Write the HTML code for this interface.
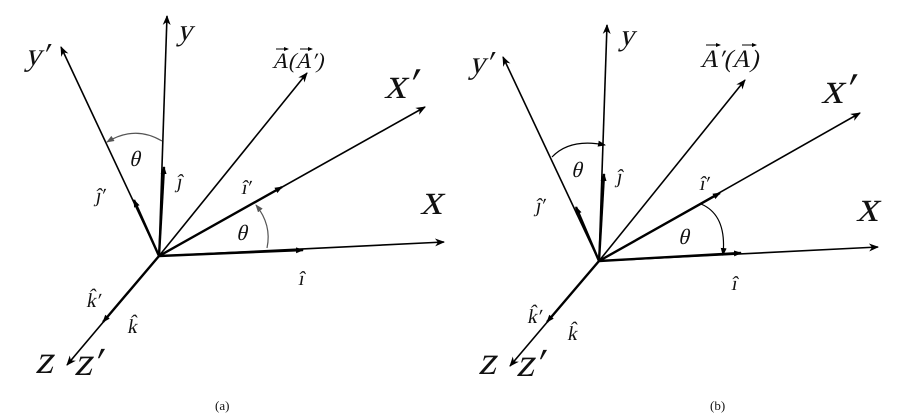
<!DOCTYPE html>
<html><head><meta charset="utf-8"><style>
html,body{margin:0;padding:0;background:#fff}
svg{display:block}
text{font-family:"Liberation Serif","DejaVu Serif",serif;fill:#111}
</style></head><body>
<svg width="903" height="420" viewBox="0 0 903 420" xmlns="http://www.w3.org/2000/svg">
<defs>
<marker id="ah" markerWidth="10" markerHeight="8" refX="9" refY="4" orient="auto" markerUnits="userSpaceOnUse"><path d="M0,0 L10,4 L0,8 L3,4 Z" fill="#000"/></marker>
<marker id="sm" markerWidth="8" markerHeight="6" refX="7" refY="3" orient="auto" markerUnits="userSpaceOnUse"><path d="M0,0 L8,3 L0,6 Z" fill="#000"/></marker>
<marker id="tv" markerWidth="5" markerHeight="4" refX="4" refY="2" orient="auto" markerUnits="userSpaceOnUse"><path d="M0,0 L5,2 L0,4 Z" fill="#000"/></marker>
<marker id="ga" markerWidth="8" markerHeight="6" refX="7" refY="3" orient="auto" markerUnits="userSpaceOnUse"><path d="M0,0 L8,3 L0,6 Z" fill="#555"/></marker>
</defs>
<g stroke="#000" stroke-width="1.6" fill="none">
<line x1="159" y1="256" x2="167" y2="16" marker-end="url(#ah)"/>
<line x1="159" y1="256" x2="61" y2="47" marker-end="url(#ah)"/>
<line x1="159" y1="256" x2="307" y2="73" marker-end="url(#ah)"/>
<line x1="159" y1="256" x2="425" y2="107" marker-end="url(#ah)"/>
<line x1="159" y1="256" x2="444" y2="242" marker-end="url(#ah)"/>
<line x1="159" y1="256" x2="67" y2="365" marker-end="url(#ah)"/>
<line x1="159" y1="256" x2="164" y2="167" stroke-width="2.4" marker-end="url(#sm)"/>
<line x1="159" y1="256" x2="134" y2="200" stroke-width="2.4" marker-end="url(#sm)"/>
<line x1="159" y1="256" x2="282" y2="187" stroke-width="2.4" marker-end="url(#sm)"/>
<line x1="159" y1="256" x2="303" y2="250" stroke-width="2.4" marker-end="url(#sm)"/>
<line x1="159" y1="256" x2="103" y2="322" stroke-width="2.4" marker-end="url(#sm)"/>
<path d="M162,141 Q135,125 107,142" stroke="#555" stroke-width="1.2" marker-end="url(#ga)"/>
<path d="M267,248 Q272,225 256,205" stroke="#555" stroke-width="1.2" marker-end="url(#ga)"/>
<line x1="599" y1="261" x2="607" y2="25" marker-end="url(#ah)"/>
<line x1="599" y1="261" x2="503" y2="57" marker-end="url(#ah)"/>
<line x1="599" y1="261" x2="745" y2="80" marker-end="url(#ah)"/>
<line x1="599" y1="261" x2="860" y2="113" marker-end="url(#ah)"/>
<line x1="599" y1="261" x2="878" y2="247" marker-end="url(#ah)"/>
<line x1="599" y1="261" x2="510" y2="366" marker-end="url(#ah)"/>
<line x1="599" y1="261" x2="604" y2="174" stroke-width="2.4" marker-end="url(#sm)"/>
<line x1="599" y1="261" x2="576" y2="207" stroke-width="2.4" marker-end="url(#sm)"/>
<line x1="599" y1="261" x2="720" y2="193" stroke-width="2.4" marker-end="url(#sm)"/>
<line x1="599" y1="261" x2="741" y2="253" stroke-width="2.4" marker-end="url(#sm)"/>
<line x1="599" y1="261" x2="547" y2="322" stroke-width="2.4" marker-end="url(#sm)"/>
<path d="M552,157 Q570,138 605,145" stroke-width="1.2" marker-end="url(#sm)"/>
<path d="M701,204 Q727,215 723,255" stroke-width="1.2" marker-end="url(#sm)"/>
<g stroke-width="1">
<line x1="276" y1="49" x2="288" y2="49" marker-end="url(#tv)"/>
<line x1="300" y1="49" x2="312" y2="49" marker-end="url(#tv)"/>
<line x1="706" y1="45" x2="720" y2="45" marker-end="url(#tv)"/>
<line x1="742" y1="45" x2="756" y2="45" marker-end="url(#tv)"/>
</g>
</g>
<g>
<text transform="translate(177,40) skewX(-14)" font-size="30">y</text>
<text transform="translate(25,65) skewX(-14)" font-size="32">y′</text>
<text transform="translate(272,68) skewX(-14)" font-size="22">A(A′)</text>
<text transform="translate(384,98) skewX(-14)" font-size="44">x′</text>
<text transform="translate(420,214) skewX(-14)" font-size="44">x</text>
<text transform="translate(129,166) skewX(-14)" font-size="22">θ</text>
<text transform="translate(236,240) skewX(-14)" font-size="22">θ</text>
<text transform="translate(176,188) skewX(-10)" font-size="20">ĵ</text>
<text transform="translate(95,202) skewX(-10)" font-size="20">ĵ′</text>
<text transform="translate(241,194) skewX(-10)" font-size="20">î′</text>
<text transform="translate(298,285) skewX(-10)" font-size="20">î</text>
<text transform="translate(86,307) skewX(-10)" font-size="20">k̂′</text>
<text transform="translate(127,333) skewX(-10)" font-size="20">k̂</text>
<text transform="translate(35,373) skewX(-14)" font-size="40">z</text>
<text transform="translate(74,375) skewX(-14)" font-size="40">z′</text>
<text x="215" y="410" font-size="13">(a)</text>
<text transform="translate(619,45) skewX(-14)" font-size="30">y</text>
<text transform="translate(469,73) skewX(-14)" font-size="32">y′</text>
<text transform="translate(700,67) skewX(-14)" font-size="25">A′(A)</text>
<text transform="translate(821,103) skewX(-14)" font-size="44">x′</text>
<text transform="translate(856,221) skewX(-14)" font-size="44">x</text>
<text transform="translate(571,177) skewX(-14)" font-size="22">θ</text>
<text transform="translate(678,244) skewX(-14)" font-size="22">θ</text>
<text transform="translate(616,183) skewX(-10)" font-size="20">ĵ</text>
<text transform="translate(535,212) skewX(-10)" font-size="20">ĵ′</text>
<text transform="translate(699,190) skewX(-10)" font-size="20">î′</text>
<text transform="translate(731,290) skewX(-10)" font-size="20">î</text>
<text transform="translate(527,323) skewX(-10)" font-size="20">k̂′</text>
<text transform="translate(567,340) skewX(-10)" font-size="20">k̂</text>
<text transform="translate(478,374) skewX(-14)" font-size="40">z</text>
<text transform="translate(516,376) skewX(-14)" font-size="40">z′</text>
<text x="710" y="410" font-size="13">(b)</text>
</g>
</svg>
</body></html>
